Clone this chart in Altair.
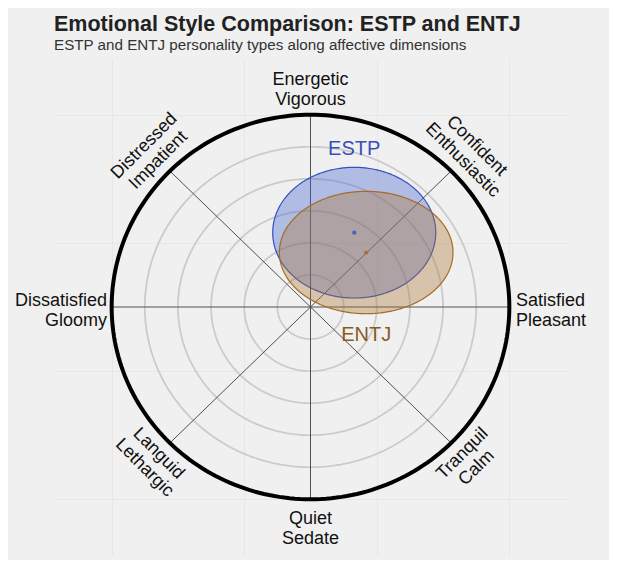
import altair as alt
import numpy as np
import pandas as pd

# ---------------- data ----------------
dim_labels = ["Energetic\nVigorous", "Confident\nEnthusiastic", "Satisfied\nPleasant",
              "Tranquil\nCalm", "Quiet\nSedate", "Languid\nLethargic",
              "Dissatisfied\nGloomy", "Distressed\nImpatient"]
type_names = ["ESTP", "ENTJ"]
type_cx = [0.66, 0.84]
type_cy = [1.16, 0.85]
type_rx = [1.23, 1.31]
type_ry = [1.02, 0.955]
type_label_x = [0.66, 0.84]
type_label_y = [2.46, -0.44]
ring_radii = [0.5, 1.0, 1.5, 2.0, 2.5]
outer_radius = 3.0
grid_breaks = [-3, -1, 1, 3]
spoke_angles = [0, 45, 90, 135]

# ---------------- styles ----------------
type_fill = ["#4060d0", "#ac7434"]
type_stroke = ["#3550c0", "#a86a22"]
type_text = ["#3a50b4", "#8a5a22"]
FONT = "Liberation Sans"
D = 3.87
LH = 20

ax_x = alt.Axis(values=grid_breaks, grid=True, gridColor="#e7e7e7", gridWidth=1,
                labels=False, ticks=False, domain=False, title=None)
ax_y = alt.Axis(values=grid_breaks, grid=True, gridColor="#e7e7e7", gridWidth=1,
                labels=False, ticks=False, domain=False, title=None)
xs = alt.Scale(domain=[-D, D], nice=False, zero=False)
ys = alt.Scale(domain=[-D, D], nice=False, zero=False)


def X(f):
    return alt.X(f, scale=xs, axis=ax_x)


def Y(f):
    return alt.Y(f, scale=ys, axis=ax_y)


# rings
t = np.linspace(0, 2 * np.pi, 241)
ring_rows = []
for r in ring_radii:
    for i, a in enumerate(t):
        ring_rows.append({"ring": r, "i": i, "x": r * np.cos(a), "y": r * np.sin(a)})
rings = pd.DataFrame(ring_rows)
ring_layer = alt.Chart(rings).mark_line(color="#cbcbcb", strokeWidth=1.8).encode(
    x=X("x:Q"), y=Y("y:Q"), detail="ring:N", order="i:Q")

outer = pd.DataFrame([{"i": i, "x": outer_radius * np.cos(a), "y": outer_radius * np.sin(a)}
                      for i, a in enumerate(t)])
outer_layer = alt.Chart(outer).mark_line(color="#000000", strokeWidth=4).encode(
    x=X("x:Q"), y=Y("y:Q"), order="i:Q")

# spokes
sp = pd.DataFrame([{"x": outer_radius * np.cos(np.radians(a)), "y": outer_radius * np.sin(np.radians(a)),
                    "x2": -outer_radius * np.cos(np.radians(a)), "y2": -outer_radius * np.sin(np.radians(a))}
                   for a in spoke_angles])
spoke_layer = alt.Chart(sp).mark_rule(color="#505050", strokeWidth=1).encode(
    x=X("x:Q"), y=Y("y:Q"), x2="x2:Q", y2="y2:Q")

# ellipses
layers = [ring_layer, spoke_layer, outer_layer]
tt = np.linspace(0, np.pi, 181)
for k, name in enumerate(type_names):
    e = pd.DataFrame({"x": type_cx[k] + type_rx[k] * np.cos(tt),
                      "y": type_cy[k] + type_ry[k] * np.sin(tt),
                      "y2": type_cy[k] - type_ry[k] * np.sin(tt)})
    layers.append(alt.Chart(e).mark_area(fill=type_fill[k], fillOpacity=0.36,
                                         stroke=type_stroke[k], strokeWidth=1.2).encode(
        x=X("x:Q"), y=Y("y:Q"), y2="y2:Q"))
for k, name in enumerate(type_names):
    c = pd.DataFrame({"x": [type_cx[k]], "y": [type_cy[k]]})
    layers.append(alt.Chart(c).mark_circle(size=18, color=type_stroke[k], opacity=0.8).encode(
        x=X("x:Q"), y=Y("y:Q")))
    lab = pd.DataFrame({"x": [type_label_x[k]], "y": [type_label_y[k]], "t": [name]})
    layers.append(alt.Chart(lab).mark_text(font=FONT, fontSize=20, color=type_text[k],
                                           align="center", baseline="middle").encode(
        x=X("x:Q"), y=Y("y:Q"), text="t:N"))

# dimension labels (x, y, align, baseline, angle, dy)
ro = outer_radius
dg = 2.4
lab_specs = [
    (0, 0.0, ro + 0.09, "center", "bottom", 0, -LH),
    (1, dg, dg, "center", "middle", 45, -LH / 2),
    (2, ro + 0.1, 0.0, "left", "middle", 0, -6),
    (3, dg, -dg, "center", "middle", 315, -LH / 2),
    (4, 0.0, -ro - 0.17, "center", "top", 0, 0),
    (5, -dg, -dg, "center", "middle", 45, -LH / 2),
    (6, -ro - 0.07, 0.0, "right", "middle", 0, -6),
    (7, -dg, dg, "center", "middle", 315, -LH / 2),
]
for idx, lx, ly, al, bl, ang, ddy in lab_specs:
    d = pd.DataFrame({"x": [lx], "y": [ly], "t": [dim_labels[idx]]})
    layers.append(alt.Chart(d).mark_text(font=FONT, fontSize=18, color="#111111", align=al,
                                         baseline=bl, angle=ang, lineBreak="\n",
                                         lineHeight=LH, dy=ddy).encode(
        x=X("x:Q"), y=Y("y:Q"), text="t:N"))

chart = alt.layer(*layers).properties(
    width=513, height=496,
    title=alt.Title(text="Emotional Style Comparison: ESTP and ENTJ",
                    subtitle="ESTP and ENTJ personality types along affective dimensions",
                    anchor="start", frame="group", font=FONT, fontSize=21.5, fontWeight="bold",
                    color="#222222",
                    subtitleFont=FONT, subtitleFontSize=15.2, subtitleColor="#333333",
                    offset=5.5, subtitlePadding=2.5),
    autosize=alt.AutoSizeParams(type="none"),
    padding={"left": 46, "top": 51, "right": 42, "bottom": 5},
    background="#f0f0f0",
).configure_view(stroke=None, fill="#f0f0f0")

chart.save("out.html", embed_options={"renderer": "svg", "actions": False})
